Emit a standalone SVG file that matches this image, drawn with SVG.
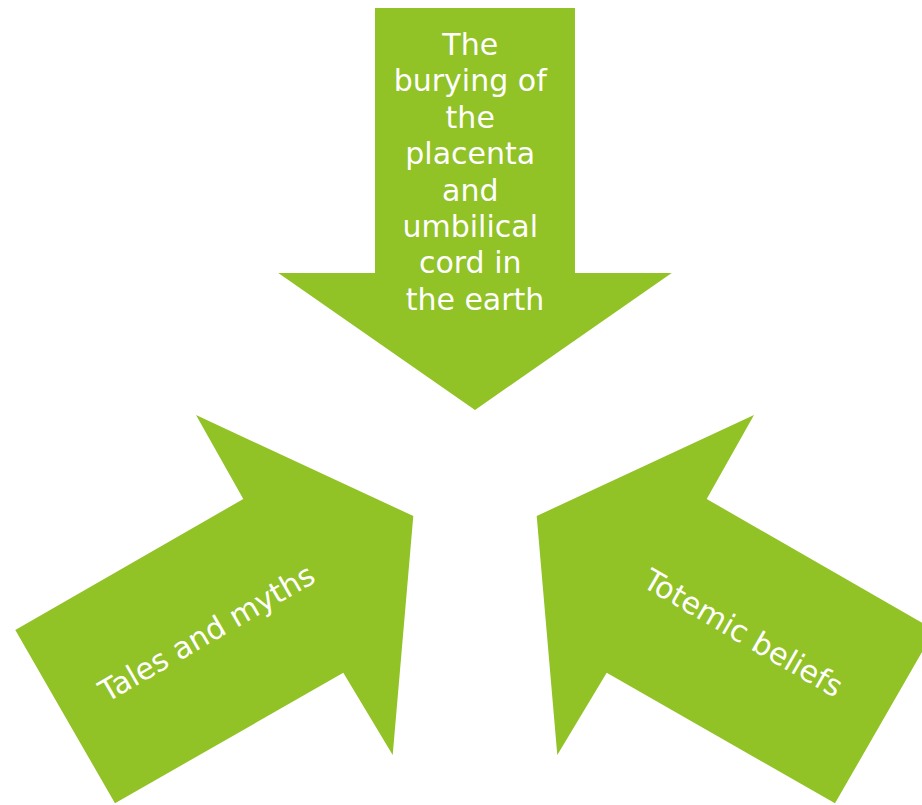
<svg xmlns="http://www.w3.org/2000/svg" width="922" height="805" viewBox="0 0 922 805">
<style>
.arrow{fill:#91C226;stroke:none}
.lbl{font-family:"DejaVu Sans",Verdana,sans-serif;font-size:30px;fill:#ffffff;text-anchor:middle}
</style>
<rect width="922" height="805" fill="#ffffff"/>
<g id="connectors"/>
<g id="node-top">
<polygon class="arrow" points="375,8 575,8 575,273 671.7,273 475,410 278.3,273 375,273"/>
<text class="lbl" x="475">
<tspan x="475" y="55">The</tspan>
<tspan x="475" y="91.4">burying of</tspan>
<tspan x="475" y="127.8">the</tspan>
<tspan x="475" y="164.2">placenta</tspan>
<tspan x="475" y="200.6">and</tspan>
<tspan x="475" y="237">umbilical</tspan>
<tspan x="475" y="273.4">cord in</tspan>
<tspan x="475" y="309.8">the earth</tspan>
</text>
</g>
<g id="node-left">
<polygon class="arrow" points="15.3,630 243.3,499 196,415 413.3,516 392.7,755 343.3,672.7 115,803.3"/>
<text class="lbl" transform="translate(212,642) rotate(-30)" x="0" y="0">Tales and myths</text>
</g>
<g id="node-right">
<polygon class="arrow" points="934.7,630 706.7,499 754,415 536.7,516 557.3,755 606.7,672.7 835,803.3"/>
<text class="lbl" transform="translate(738,642) rotate(30)" x="0" y="0">Totemic beliefs</text>
</g>
</svg>
